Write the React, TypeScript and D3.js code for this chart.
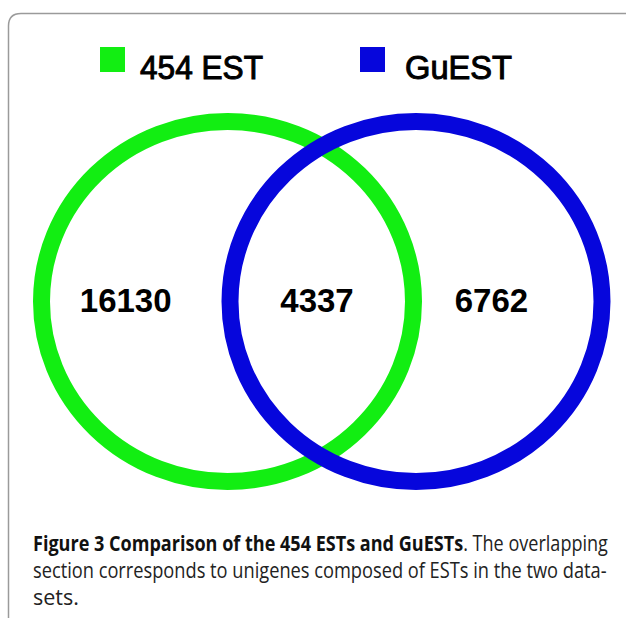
import React, { useLayoutEffect, useRef, useState } from "react";
import * as d3 from "d3";

const setLabels = ["454 EST", "GuEST"];
const setColors = ["#12ee12", "#0606dc"];
const regionCounts = [16130, 4337, 6762];
const captionBold = "Figure 3 Comparison of the 454 ESTs and GuESTs";
const captionLines = [". The overlapping", "section corresponds to unigenes composed of ESTs in the two data-", "sets."];

const W = 626;
const H = 618;
const capFont = "'Open Sans', 'Noto Sans', sans-serif";

function FitText(props: { x: number; y: number; width?: number; size: number; children: React.ReactNode }) {
  const ref = useRef<SVGTextElement>(null);
  const [s, setS] = useState(1);
  useLayoutEffect(() => {
    if (!props.width || !ref.current) return;
    const w = ref.current.getComputedTextLength();
    if (w > 0) setS(props.width / w);
  }, [props.width]);
  return (
    <text
      ref={ref}
      transform={`translate(${props.x},${props.y}) scale(${s},1)`}
      fontFamily={capFont}
      fontSize={props.size}
      fill="#222"
    >
      {props.children}
    </text>
  );
}

export default function App() {
  // unit space: set 0 centre at 0, set 1 centre at 1
  const x = d3.scaleLinear().domain([0, 1]).range([227.5, 416]);
  const cy = 301.5;
  const rx = 186;
  const ry = 180;
  const regionPos = [-0.54, 0.475, 1.4];
  const fmt = d3.format("d");

  const borderPath = `M ${W + 20} 13.5 L 21 13.5 Q 8.5 13.5 8.5 26 L 8.5 ${H + 20}`;

  return (
    <svg
      width={W}
      height={H}
      style={{ position: "absolute", left: 0, top: 0, background: "#fff" }}
    >
      <path d={borderPath} fill="none" stroke="#9a9a9a" strokeWidth={1.5} />

      {/* legend */}
      {setLabels.map((lab, i) => {
        const lx = i === 0 ? 100 : 360;
        return (
          <g key={lab}>
            <rect x={lx} y={47} width={25} height={25} fill={setColors[i]} />
            <text
              x={lx + (i === 0 ? 40 : 45)}
              y={79}
              fontFamily="'Liberation Sans', Arial, sans-serif"
              fontSize={33}
              fill="#000"
              stroke="#000"
              strokeWidth={1}
              textLength={i === 0 ? 123 : 107}
              lengthAdjust="spacingAndGlyphs"
            >
              {lab}
            </text>
          </g>
        );
      })}

      {/* set ellipses */}
      {setLabels.map((lab, i) => (
        <ellipse
          key={"e" + lab}
          cx={x(i)}
          cy={cy}
          rx={rx}
          ry={ry}
          fill="none"
          stroke={setColors[i]}
          strokeWidth={17}
        />
      ))}

      {/* counts */}
      {regionCounts.map((c, i) => (
        <text
          key={"c" + i}
          x={x(regionPos[i])}
          y={312}
          textAnchor="middle"
          fontFamily="'Liberation Sans', Arial, sans-serif"
          fontWeight="bold"
          fontSize={33}
          fill="#000"
        >
          {fmt(c)}
        </text>
      ))}

      {/* caption */}
      <FitText x={33} y={551} width={575} size={21}>
        <tspan fontWeight="bold" fill="#111">{captionBold}</tspan>
        <tspan>{captionLines[0]}</tspan>
      </FitText>
      <FitText x={33} y={578} width={574} size={21}>
        {captionLines[1]}
      </FitText>
      <FitText x={33} y={605} width={46} size={21}>
        {captionLines[2]}
      </FitText>
    </svg>
  );
}
